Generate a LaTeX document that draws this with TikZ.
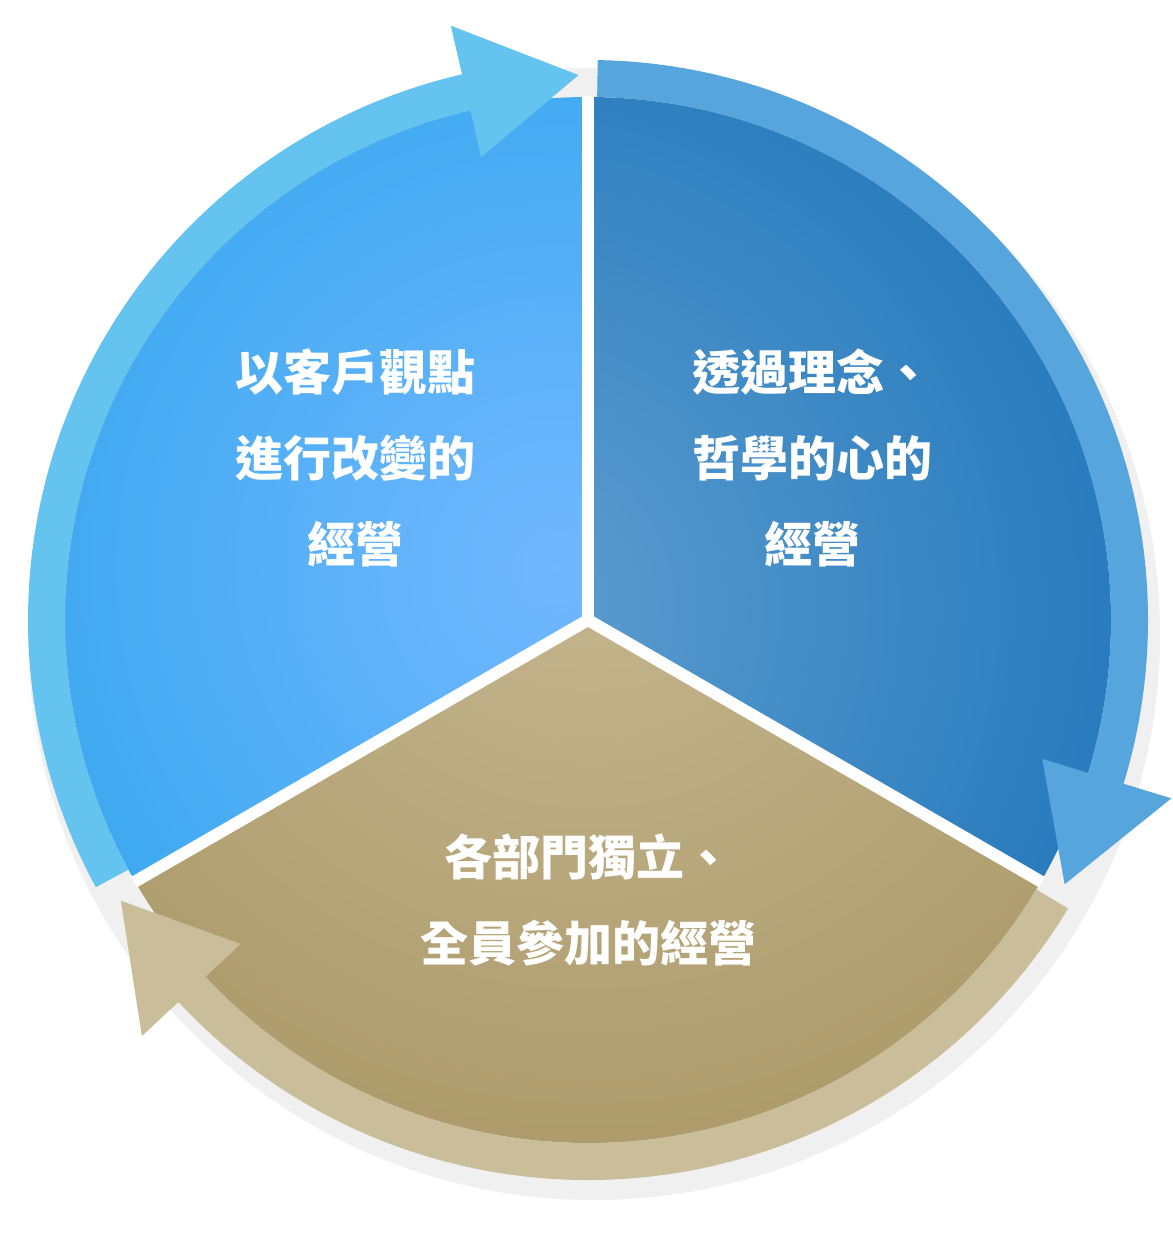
\documentclass[tikz,border=0pt]{standalone}
\usepackage{fontspec}
\newfontfamily\cjk{Noto Sans CJK TC}
\begin{document}
\begin{tikzpicture}[x=1pt,y=1pt,
  lbl/.style={text=white,font=\cjk\bfseries\fontsize{48}{86}\selectfont,align=center}]
\useasboundingbox (0,0) rectangle (1172,-1246);
\definecolor{ringL}{HTML}{64C3EF}\definecolor{ringR}{HTML}{56A5DC}\definecolor{ringB}{HTML}{C9BD9A}
\begin{scope}[shift={(588,-620)}]
% shadow
\fill[black!6] (6,-14) circle (566);
% disk sectors
\begin{scope}\clip (0,0) -- (90:523) arc[start angle=90,end angle=210,radius=523] -- cycle;
\shade[inner color=white!35!cyan!60!blue!70,outer color={rgb,255:red,12;green,155;blue,226}] (120:60) circle (1046);
\end{scope}
\begin{scope}\clip (0,0) -- (90:523) arc[start angle=90,end angle=-30,radius=523] -- cycle;
\shade[inner color={rgb,255:red,95;green,158;blue,208},outer color={rgb,255:red,0;green,98;blue,176}] (170:80) circle (1046);
\end{scope}
\begin{scope}\clip (0,0) -- (210:523) arc[start angle=210,end angle=330,radius=523] -- cycle;
\shade[inner color={rgb,255:red,198;green,184;blue,146},outer color={rgb,255:red,158;green,138;blue,84}] (90:120) circle (1046);
\end{scope}
\foreach \a in {90,210,330} \draw[white,line width=12] (0,0) -- (\a:524);
% rings
\fill[ringL] (208.5:560) arc[start angle=208.5,end angle=103,radius=560] -- (103:610) -- (91:545) -- (103:475) -- (103:523) arc[start angle=103,end angle=208.5,radius=523] -- cycle;
\fill[ringR] (89:560) arc[start angle=89,end angle=-17,radius=560] -- (-17:610) -- (-29:545) -- (-17:475) -- (-17:523) arc[start angle=-17,end angle=89,radius=523] -- cycle;
\fill[ringB] (329:560) arc[start angle=329,end angle=223,radius=560] -- (223:610) -- (211:545) -- (223:475) -- (223:523) arc[start angle=223,end angle=329,radius=523] -- cycle;
\end{scope}
\node[lbl] (L) at (355,-458) {以客戶觀點\\進行改變的\\經營};
\node[lbl] (R) at (812,-458) {透過理念、\\哲學的心的\\經營};
\node[lbl] (B) at (588,-900) {各部門獨立、\\全員參加的經營};
\end{tikzpicture}
\end{document}
